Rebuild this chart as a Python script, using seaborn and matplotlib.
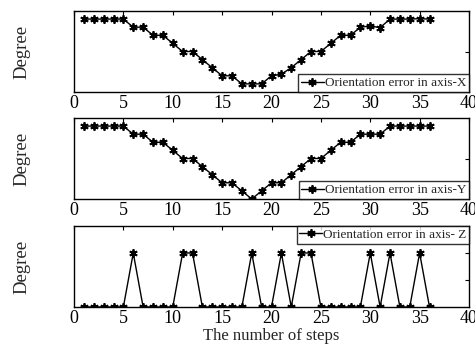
import matplotlib
matplotlib.use("Agg")
import matplotlib.pyplot as plt
import seaborn as sns

# step index and the three orientation error series
steps = list(range(1, 37))
err_x = [9, 9, 9, 9, 9, 8, 8, 7, 7, 6, 5, 5, 4, 3, 2, 2, 1, 1, 1, 2,
         2.2, 3, 4, 5, 5, 6, 7, 7, 8, 8.15, 7.95, 9, 9, 9, 9.05, 9]
err_y = [9, 9, 9, 9, 9, 8, 8, 7, 7, 6, 5, 5, 4, 3, 2, 2, 1, 0, 1, 2,
         2, 3, 4, 5, 5, 6, 7, 7, 8, 8, 8, 9, 9, 9, 9, 9]
z_peaks = [6, 11, 12, 18, 21, 23, 24, 30, 32, 35]
err_z = [2 if s in z_peaks else 0 for s in steps]

labels = ["Orientation error in axis-X",
          "Orientation error in axis-Y",
          "Orientation error in axis- Z"]

sns.set_style("white")
plt.rcParams['font.family'] = ['Liberation Serif', 'DejaVu Serif']

W, H = 475, 347
fig = plt.figure(figsize=(W / 100, H / 100), dpi=100)

# axes boxes in pixels: (top, bottom)
rows = [(11, 92), (118, 199), (226, 307)]
left, right = 74, 469
axs = [fig.add_axes([left / W, 1 - b / H, (right - left) / W, (b - t) / H])
       for t, b in rows]

series = [err_x, err_y, err_z]
ylims = [(0, 10), (0, 10), (0, 3)]
yticks = [[5], [5], [1, 2]]
locs = ['lower right', 'lower right', 'upper right']

# matlab-like asterisk marker
star = (6, 2, 0)

for ax, vals, lab, yl, yt, loc in zip(axs, series, labels, ylims, yticks, locs):
    sns.lineplot(x=steps, y=vals, ax=ax, color='k', lw=1.0,
                 marker=star, markersize=6, markeredgewidth=1.3,
                 markeredgecolor='k', label=lab)
    ax.set_xlim(0, 40)
    ax.set_ylim(*yl)
    ax.set_xticks(range(0, 41, 5))
    ax.set_yticks(yt)
    ax.set_yticklabels([])
    ax.tick_params(direction='in', length=3, width=0.8, top=True, right=True,
                   labelsize=13, pad=2, colors='k')
    for sp in ax.spines.values():
        sp.set_color('k')
        sp.set_linewidth(1.0)
    ax.set_ylabel("Degree", fontsize=13.5)
    ax.yaxis.set_label_coords(-0.11, 0.5)
    leg = ax.legend(loc=loc, fontsize=9.5, frameon=True, fancybox=False,
                    borderaxespad=0, borderpad=0.2, handlelength=1.7,
                    handletextpad=0.1, edgecolor='k')
    leg.get_frame().set_linewidth(1.0)

axs[2].set_xlabel("The number of steps", fontsize=12, labelpad=1)

fig.savefig("out.png", dpi=100)
